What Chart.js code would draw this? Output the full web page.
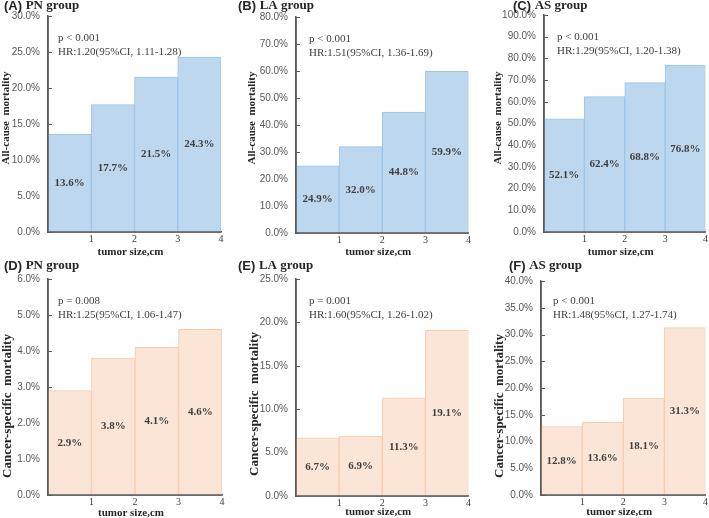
<!DOCTYPE html>
<html>
<head>
<meta charset="utf-8">
<script src="https://cdn.jsdelivr.net/npm/chart.js@4"></script>
<style>
  body { margin: 0; background: #fff; }
  #wrap { position: relative; width: 709px; height: 518px; }
  canvas { position: absolute; }
</style>
</head>
<body>
<div id="wrap"></div>
<script>
// tick labels at the bar edges
const tumorSizes = ['1', '2', '3', '4'];

// mortality values (%)
const allCausePN = [13.6, 17.7, 21.5, 24.3];
const allCauseLA = [24.9, 32.0, 44.8, 59.9];
const allCauseAS = [52.1, 62.4, 68.8, 76.8];
const cancerPN = [2.9, 3.8, 4.1, 4.6];
const cancerLA = [6.7, 6.9, 11.3, 19.1];
const cancerAS = [12.8, 13.6, 18.1, 31.3];

const panelLetters = ['(A)', '(B)', '(C)', '(D)', '(E)', '(F)'];
const panelGroups = ['PN group', 'LA group', 'AS group', 'PN group', 'LA group', 'AS group'];
const yTitles = ['All-cause  mortality', 'All-cause  mortality', 'All-cause  mortality',
    'Cancer-specific  mortality', 'Cancer-specific  mortality', 'Cancer-specific  mortality'];
const yMax = [30, 80, 100, 6, 25, 40];
const yStep = [5, 10, 10, 1, 5, 5];
const pTexts = ['p < 0.001', 'p < 0.001', 'p < 0.001', 'p = 0.008', 'p = 0.001', 'p < 0.001'];
const hrTexts = ['HR:1.20(95%CI, 1.11-1.28)', 'HR:1.51(95%CI, 1.36-1.69)', 'HR:1.29(95%CI, 1.20-1.38)',
    'HR:1.25(95%CI, 1.06-1.47)', 'HR:1.60(95%CI, 1.26-1.02)', 'HR:1.48(95%CI, 1.27-1.74)'];
const panelValues = [allCausePN, allCauseLA, allCauseAS, cancerPN, cancerLA, cancerAS];

const SERIF = '"Liberation Serif", "Times New Roman", serif';
const SANS = '"Liberation Sans", Arial, sans-serif';

// canvas box and chart area (relative to canvas)
const panels = [
    { left: 0, top: 0, w: 236, h: 258, area: [48, 16, 221, 232], title: [4, 6], yt: [6, 118], ann: [58, 38], xtY: 252, ytSize: 11 },
    { left: 236, top: 0, w: 236, h: 258, area: [60, 17, 233, 233], title: [2, 6], yt: [16, 118], ann: [73, 39], xtY: 252, ytSize: 11 },
    { left: 472, top: 0, w: 237, h: 258, area: [72, 15, 235, 232], title: [41, 6], yt: [26, 118], ann: [85, 37], xtY: 252, ytSize: 11 },
    { left: 0, top: 258, w: 236, h: 260, area: [48, 21, 222, 237], title: [4, 8], yt: [8, 148], ann: [58, 43], xtY: 255, ytSize: 13 },
    { left: 236, top: 258, w: 236, h: 260, area: [60, 21, 233, 238], title: [2, 8], yt: [19, 146], ann: [73, 43], xtY: 254, ytSize: 13 },
    { left: 472, top: 258, w: 237, h: 260, area: [69, 23, 235, 237], title: [37, 8], yt: [28, 148], ann: [81, 43], xtY: 254, ytSize: 13 }
];

const blueFill = 'rgb(189,215,238)';
const blueEdge = 'rgb(157,195,230)';
const orangeFill = 'rgb(251,229,214)';
const orangeEdge = 'rgb(248,203,173)';

const panelText = {
    id: 'panelText',
    beforeDatasetsDraw(chart) {
        // small inner ticks on the y axis
        const ctx = chart.ctx;
        const y = chart.scales.y;
        const a = chart.chartArea;
        ctx.save();
        ctx.strokeStyle = '#595959';
        ctx.lineWidth = 1;
        y.ticks.forEach(t => {
            const py = Math.round(y.getPixelForValue(t.value)) + 0.5;
            ctx.beginPath();
            ctx.moveTo(a.left, py);
            ctx.lineTo(a.left + 4, py);
            ctx.stroke();
        });
        ctx.restore();
    },
    afterDatasetsDraw(chart, args, opts) {
        const ctx = chart.ctx;
        const p = opts.panel;
        const i = opts.index;
        const a = chart.chartArea;
        ctx.save();

        // axis lines on top of the bars
        ctx.strokeStyle = '#595959';
        ctx.lineWidth = 1.5;
        ctx.beginPath();
        ctx.moveTo(a.left, a.top);
        ctx.lineTo(a.left, a.bottom);
        ctx.lineTo(a.right, a.bottom);
        ctx.stroke();

        // value labels in the middle of each bar
        ctx.fillStyle = '#404040';
        ctx.font = 'bold 11px ' + SERIF;
        ctx.textAlign = 'center';
        ctx.textBaseline = 'middle';
        chart.getDatasetMeta(0).data.forEach((bar, k) => {
            const v = chart.data.datasets[0].data[k].y;
            ctx.fillText(v.toFixed(1) + '%', bar.x, (bar.y + bar.base) / 2);
        });

        // p value and HR
        ctx.textAlign = 'left';
        ctx.font = '11px ' + SERIF;
        ctx.fillText(pTexts[i], p.ann[0], p.ann[1]);
        ctx.fillText(hrTexts[i], p.ann[0], p.ann[1] + 14);

        // panel title
        ctx.fillStyle = '#262626';
        ctx.font = 'bold 13px ' + SANS;
        ctx.fillText(panelLetters[i], p.title[0], p.title[1]);
        const lw = ctx.measureText(panelLetters[i] + ' ').width;
        ctx.font = 'bold 13px ' + SERIF;
        ctx.fillText(panelGroups[i], p.title[0] + lw, p.title[1]);

        // axis titles
        ctx.textAlign = 'center';
        ctx.font = 'bold 11px ' + SERIF;
        ctx.fillText('tumor size,cm', (a.left + a.right) / 2 - 4, p.xtY);

        ctx.translate(p.yt[0], p.yt[1]);
        ctx.rotate(-Math.PI / 2);
        ctx.font = 'bold ' + p.ytSize + 'px ' + SERIF;
        ctx.fillText(yTitles[i], 0, 0);
        ctx.restore();
    }
};

panels.forEach((p, i) => {
    const canvas = document.createElement('canvas');
    canvas.width = p.w;
    canvas.height = p.h;
    canvas.style.left = p.left + 'px';
    canvas.style.top = p.top + 'px';
    canvas.style.width = p.w + 'px';
    canvas.style.height = p.h + 'px';
    document.getElementById('wrap').appendChild(canvas);

    const isTop = i < 3;
    const values = panelValues[i];
    const points = values.map((v, k) => ({ x: k + 0.5, y: v }));

    new Chart(canvas.getContext('2d'), {
        type: 'bar',
        data: {
            datasets: [{
                data: points,
                backgroundColor: isTop ? blueFill : orangeFill,
                borderColor: isTop ? blueEdge : orangeEdge,
                borderWidth: 1,
                barPercentage: 1,
                categoryPercentage: 1
            }]
        },
        options: {
            responsive: false,
            animation: false,
            devicePixelRatio: 1,
            layout: {
                padding: { left: 0, top: p.area[1], right: p.w - p.area[2], bottom: 0 }
            },
            plugins: {
                legend: { display: false },
                tooltip: { enabled: false },
                panelText: { panel: p, index: i }
            },
            scales: {
                x: {
                    type: 'linear',
                    min: 0,
                    max: 4,
                    offset: false,
                    grid: { display: false, drawTicks: false, offset: false },
                    border: { color: '#595959', width: 1.5 },
                    ticks: {
                        stepSize: 1,
                        padding: 1,
                        color: '#404040',
                        font: { family: SERIF, size: 10 },
                        callback: v => v === 0 ? '' : tumorSizes[v - 1]
                    },
                    afterFit: s => { s.height = p.h - p.area[3]; }
                },
                y: {
                    min: 0,
                    max: yMax[i],
                    grid: { display: false, drawTicks: false },
                    border: { color: '#595959', width: 1.5 },
                    ticks: {
                        stepSize: yStep[i],
                        padding: 8,
                        color: '#595959',
                        font: { family: SANS, size: 10 },
                        callback: v => v.toFixed(1) + '%'
                    },
                    afterFit: s => { s.width = p.area[0]; }
                }
            }
        },
        plugins: [panelText]
    });
});
</script>
</body>
</html>
